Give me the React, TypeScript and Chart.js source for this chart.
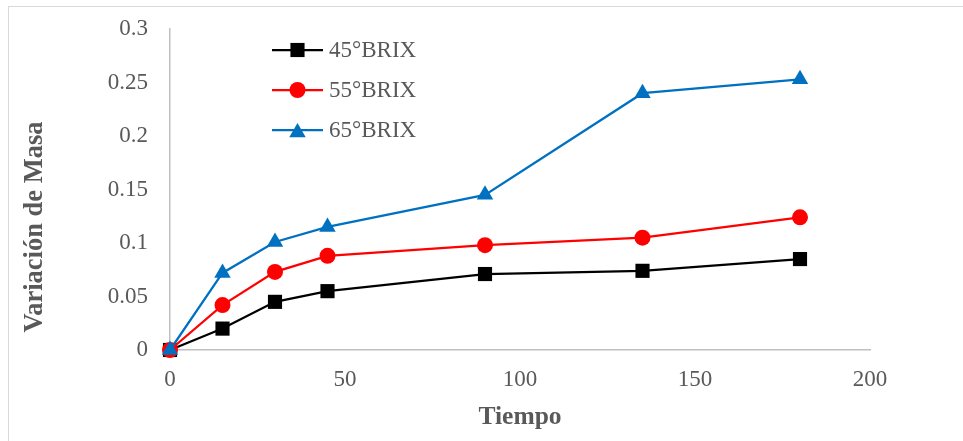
import React, { useEffect, useRef } from 'react';
import { Chart, registerables } from 'chart.js';

Chart.register(...registerables);

const tiempo = [0, 15, 30, 45, 90, 135, 180];
const brix45 = [0, 0.02, 0.045, 0.055, 0.071, 0.074, 0.085];
const brix55 = [0, 0.042, 0.073, 0.088, 0.098, 0.105, 0.124];
const brix65 = [0, 0.072, 0.101, 0.115, 0.145, 0.24, 0.253];
const seriesLabels = ['45°BRIX', '55°BRIX', '65°BRIX'];
const seriesColors = ['#000000', '#FF0000', '#0070C0'];
const xTicks = [0, 50, 100, 150, 200];
const yTicks = [0, 0.05, 0.1, 0.15, 0.2, 0.25, 0.3];
const xTitle = 'Tiempo';
const yTitle = 'Variación de Masa';

const FONT = '"Liberation Serif", "Times New Roman", serif';
const TEXT = '#595959';
const AXIS = '#bfbfbf';

function drawMarker(ctx: CanvasRenderingContext2D, style: string, x: number, y: number, r: number, color: string) {
  ctx.save();
  ctx.fillStyle = color;
  ctx.beginPath();
  if (style === 'rect') {
    const s = Math.SQRT1_2 * r;
    ctx.rect(x - s, y - s, 2 * s, 2 * s);
  } else if (style === 'triangle') {
    const h = 1.5 * r;
    const w = Math.sqrt(3) * r;
    ctx.moveTo(x, y - h / 2);
    ctx.lineTo(x + w / 2, y + h / 2);
    ctx.lineTo(x - w / 2, y + h / 2);
    ctx.closePath();
  } else {
    ctx.arc(x, y, r, 0, Math.PI * 2);
  }
  ctx.fill();
  ctx.restore();
}

const legendPlugin = {
  id: 'insideLegend',
  afterDatasetsDraw(chart: any) {
    const ctx = chart.ctx as CanvasRenderingContext2D;
    const area = chart.chartArea;
    chart.data.datasets.forEach((ds: any, i: number) => {
      const y = area.top + 21 + i * 40;
      const x0 = area.left + 102;
      const x1 = x0 + 51;
      ctx.save();
      ctx.strokeStyle = ds.borderColor;
      ctx.lineWidth = ds.borderWidth;
      ctx.beginPath();
      ctx.moveTo(x0, y);
      ctx.lineTo(x1, y);
      ctx.stroke();
      drawMarker(ctx, ds.pointStyle, (x0 + x1) / 2, y, ds.pointRadius, ds.pointBackgroundColor);
      ctx.fillStyle = TEXT;
      ctx.font = `23px ${FONT}`;
      ctx.textBaseline = 'middle';
      ctx.textAlign = 'left';
      ctx.fillText(ds.label, x1 + 6, y + 1);
      ctx.restore();
    });
  },
};

const yTitlePlugin = {
  id: 'yTitleDraw',
  afterDraw(chart: any) {
    const ctx = chart.ctx as CanvasRenderingContext2D;
    ctx.save();
    ctx.translate(35, chart.chartArea.bottom - 123);
    ctx.rotate(-Math.PI / 2);
    ctx.fillStyle = TEXT;
    ctx.font = `bold 26.5px ${FONT}`;
    ctx.textAlign = 'center';
    ctx.textBaseline = 'middle';
    ctx.fillText(yTitle, 0, 0);
    ctx.restore();
  },
};

export default function App() {
  const ref = useRef<HTMLCanvasElement>(null);

  useEffect(() => {
    if (!ref.current) return;
    const series = [brix45, brix55, brix65];
    const styles = ['rect', 'circle', 'triangle'];
    const radii = [10, 8, 9.5];
    const chart = new Chart(ref.current, {
      type: 'line',
      data: {
        datasets: series.map((vals, i) => ({
          label: seriesLabels[i],
          data: tiempo.map((t, j) => ({ x: t, y: vals[j] })),
          borderColor: seriesColors[i],
          backgroundColor: seriesColors[i],
          pointBackgroundColor: seriesColors[i],
          pointBorderColor: seriesColors[i],
          pointBorderWidth: 0,
          borderWidth: 2.25,
          pointStyle: styles[i],
          pointRadius: radii[i],
          tension: 0,
          clip: false,
          order: 2 - i,
        })) as any,
      },
      options: {
        responsive: false,
        animation: false,
        devicePixelRatio: 1,
        layout: { padding: { left: 0, right: 93, top: 29, bottom: 0 } },
        plugins: {
          legend: { display: false },
          tooltip: { enabled: false },
        },
        scales: {
          x: {
            type: 'linear',
            min: 0,
            max: 200,
            afterBuildTicks: (s: any) => {
              s.ticks = xTicks.map((v) => ({ value: v }));
            },
            afterFit: (s: any) => {
              s.height = 91;
            },
            grid: { display: false, drawTicks: false, tickLength: 0 },
            border: { display: true, color: AXIS, width: 1.5 },
            ticks: {
              color: TEXT,
              font: { family: FONT, size: 23 },
              padding: 16,
              maxRotation: 0,
              callback: (v: any) => String(v),
            },
            title: {
              display: true,
              text: xTitle,
              color: TEXT,
              font: { family: FONT, size: 25.5, weight: 'bold' },
              padding: { top: 0, bottom: 8 },
            },
          },
          y: {
            type: 'linear',
            min: 0,
            max: 0.3,
            afterBuildTicks: (s: any) => {
              s.ticks = yTicks.map((v) => ({ value: v }));
            },
            afterFit: (s: any) => {
              s.width = 170;
              s.paddingTop = 0;
              s.paddingBottom = 0;
            },
            grid: { display: false, drawTicks: false, tickLength: 0 },
            border: { display: true, color: AXIS, width: 1.5 },
            ticks: {
              color: TEXT,
              font: { family: FONT, size: 23 },
              padding: 22,
              callback: (v: any) => String(Number(Number(v).toFixed(2))),
            },
          },
        },
      } as any,
      plugins: [legendPlugin, yTitlePlugin],
    });
    return () => chart.destroy();
  }, []);

  return (
    <div
      style={{
        position: 'fixed',
        left: 0,
        top: 0,
        width: 963,
        height: 441,
        overflow: 'hidden',
        background: '#ffffff',
      }}
    >
      <div
        style={{
          position: 'absolute',
          left: 8,
          top: 6,
          width: 1200,
          height: 1200,
          borderLeft: '1px solid #d9d9d9',
          borderTop: '1px solid #d9d9d9',
        }}
      />
      <canvas
        ref={ref}
        width={963}
        height={441}
        style={{ position: 'absolute', left: 0, top: 0, width: 963, height: 441, display: 'block' }}
      />
    </div>
  );
}
